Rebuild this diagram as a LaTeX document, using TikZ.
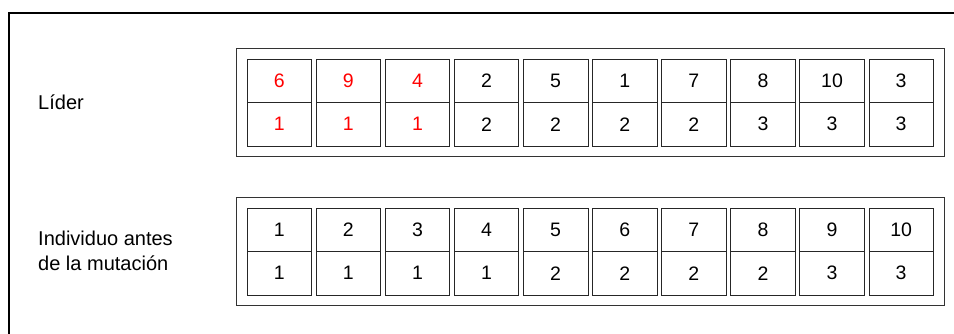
\documentclass[tikz,border=0pt]{standalone}
\usepackage{fontspec}
\setmainfont{Liberation Sans}
\begin{document}
\begin{tikzpicture}[x=1pt,y=-1pt,
  cellbox/.style={draw=black!85,line width=0.8pt,minimum width=64.5pt,minimum height=43.5pt,inner sep=0pt,outer sep=0pt,anchor=north west,font=\fontsize{19.5}{22}\selectfont},
  rowbox/.style={draw=black!80,line width=1.2pt,minimum width=708pt,minimum height=108pt,inner sep=0pt,anchor=north west},
  lbl/.style={anchor=west,align=left,inner sep=0pt,font=\fontsize{20}{25}\selectfont},
  hot/.style={text=red}]
\useasboundingbox (0,0) rectangle (954,334);
\draw[line width=2pt] (9,345) -- (9,13) -- (965,13);
\node[rowbox] (rowA) at (236,48) {};
\node[rowbox] (rowB) at (236,197) {};
\node[lbl] (labA) at (38,102.5) {Líder};
\node[lbl] (labB) at (38,251) {Individuo antes\\de la mutación};
% row A
\foreach \t/\b/\s [count=\i from 0] in {6/1/hot,9/1/hot,4/1/hot,2/2/,5/2/,1/2/,7/2/,8/3/,10/3/,3/3/}{
  \node[cellbox,\s] (a\i) at (247+69.1*\i,59) {\t};
  \node[cellbox,\s] (ab\i) at (a\i.south west) {\b};
}
% row B
\foreach \t/\b [count=\i from 0] in {1/1,2/1,3/1,4/1,5/2,6/2,7/2,8/2,9/3,10/3}{
  \node[cellbox] (b\i) at (247+69.1*\i,208) {\t};
  \node[cellbox] (bb\i) at (b\i.south west) {\b};
}
\end{tikzpicture}
\end{document}
